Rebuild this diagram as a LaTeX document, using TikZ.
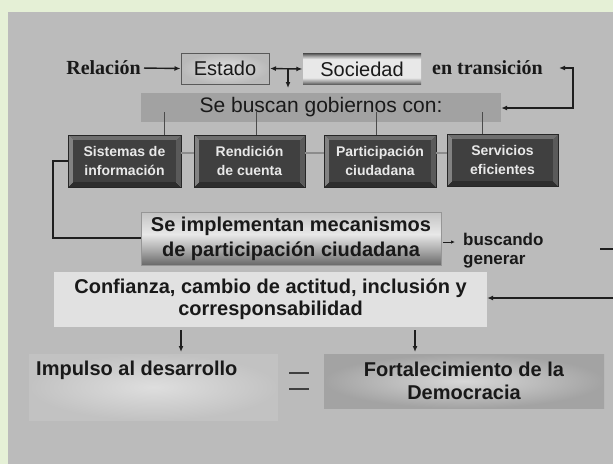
\documentclass[tikz,border=0pt]{standalone}
\usepackage{fontspec}
\setmainfont{Liberation Serif}
\newfontfamily\arial{Liberation Sans}
\usetikzlibrary{arrows.meta,calc}
\definecolor{bggreen}{RGB}{229,240,214}
\definecolor{panel}{RGB}{187,187,187}
\definecolor{linedark}{RGB}{30,30,30}
\definecolor{txt}{RGB}{25,25,25}
\definecolor{txtlight}{RGB}{232,232,232}
\definecolor{bevT}{RGB}{110,110,110}
\definecolor{bevL}{RGB}{130,130,130}
\definecolor{bevR}{RGB}{90,90,90}
\definecolor{bevB}{RGB}{45,45,45}
\definecolor{face}{RGB}{64,64,64}
\definecolor{hgrey}{RGB}{140,140,140}
\definecolor{sdark}{RGB}{88,88,88}
\definecolor{smid}{RGB}{160,160,160}
\definecolor{slight}{RGB}{232,232,232}
\definecolor{idark}{RGB}{105,105,105}
\definecolor{imid}{RGB}{165,165,165}
\definecolor{ilight}{RGB}{232,232,232}
\definecolor{itop}{RGB}{195,195,195}
\pgfdeclareverticalshading{socshade}{100bp}{color(0bp)=(sdark); color(25bp)=(sdark); color(30bp)=(smid); color(36bp)=(slight); color(66bp)=(slight); color(71bp)=(smid); color(75bp)=(sdark); color(100bp)=(sdark)}
\pgfdeclareverticalshading{implshade}{100bp}{color(0bp)=(idark); color(25bp)=(idark); color(38bp)=(imid); color(54bp)=(ilight); color(75bp)=(itop); color(100bp)=(itop)}
\newcommand\bevbox[6]{%
  \begin{scope}[shift={(#2,#3)}]
    \pgfmathsetmacro\bbw{#4/2}\pgfmathsetmacro\bbh{#5/2}
    \fill[bevT] (-\bbw,-\bbh) -- (\bbw,-\bbh) -- (\bbw-5,-\bbh+5) -- (-\bbw+5,-\bbh+5) -- cycle;
    \fill[bevB] (-\bbw,\bbh) -- (\bbw,\bbh) -- (\bbw-5,\bbh-5) -- (-\bbw+5,\bbh-5) -- cycle;
    \fill[bevL] (-\bbw,-\bbh) -- (-\bbw+5,-\bbh+5) -- (-\bbw+5,\bbh-5) -- (-\bbw,\bbh) -- cycle;
    \fill[bevR] (\bbw,-\bbh) -- (\bbw-5,-\bbh+5) -- (\bbw-5,\bbh-5) -- (\bbw,\bbh) -- cycle;
    \fill[face] (-\bbw+5,-\bbh+5) rectangle (\bbw-5,\bbh-5);
  \end{scope}
  \node[darkbox, minimum width=#4pt, minimum height=#5pt] (#1) at (#2,#3) {#6};
}
\tikzset{
  conn/.style={draw=linedark, line width=1.4pt},
  arr/.style={conn, -{Latex[length=6pt,width=5pt]}},
  dbl/.style={conn, {Latex[length=6pt,width=5pt]}-{Latex[length=6pt,width=5pt]}},
  vline/.style={draw=linedark!80, line width=0.9pt},
  hline/.style={draw=hgrey, line width=1.6pt},
  serifb/.style={font=\fontsize{20}{24}\selectfont\bfseries, text=txt, inner sep=0pt},
  darkbox/.style={draw=black!85, line width=0.8pt, text=txtlight, align=center, inner sep=0pt,
    font=\arial\bfseries\fontsize{14}{19}\selectfont},
  estbox/.style={draw=black!65, line width=1pt, inner color={rgb,255:red,225;green,225;blue,225},
    outer color={rgb,255:red,185;green,185;blue,185}, minimum width=88pt, minimum height=31pt,
    inner sep=0pt, text=txt, font=\arial\fontsize{20}{24}\selectfont},
  socbox/.style={shading=socshade, minimum width=118pt, minimum height=31pt,
    inner sep=0pt, text=txt, font=\arial\fontsize{20}{24}\selectfont},
  buscbox/.style={fill={rgb,255:red,162;green,162;blue,162}, minimum width=360pt, minimum height=29pt,
    inner sep=0pt, text=txt, font=\arial\fontsize{21}{25}\selectfont},
  implbox/.style={shading=implshade, draw={rgb,255:red,150;green,150;blue,150}, line width=0.6pt,
    minimum width=300pt, minimum height=53pt, inner sep=0pt, align=center, text=txt,
    font=\arial\bfseries\fontsize{20}{25}\selectfont},
  smallb/.style={inner sep=0pt, align=left, text=txt, font=\arial\bfseries\fontsize{17}{19}\selectfont},
  confbox/.style={fill={rgb,255:red,225;green,225;blue,225}, minimum width=433pt, minimum height=55pt,
    inner sep=0pt, align=center, text=txt, font=\arial\bfseries\fontsize{20}{22}\selectfont},
  impbox/.style={inner color={rgb,255:red,222;green,222;blue,222}, outer color={rgb,255:red,194;green,194;blue,194},
    minimum width=249pt, minimum height=66pt, inner sep=0pt},
  fortbox/.style={inner color={rgb,255:red,215;green,215;blue,215}, outer color={rgb,255:red,163;green,163;blue,163},
    minimum width=280pt, minimum height=54pt, inner sep=0pt, align=center, text=txt,
    font=\arial\bfseries\fontsize{20}{23}\selectfont},
  bigb/.style={inner sep=0pt, text=txt, font=\arial\bfseries\fontsize{20}{23}\selectfont},
  eqline/.style={draw=linedark!85, line width=2pt}
}
\begin{document}
\begin{tikzpicture}[x=1pt,y=-1pt]
\useasboundingbox (0,0) rectangle (613,464);
\clip (0,0) rectangle (613,464);
\fill[bggreen] (0,0) rectangle (613,464);
\fill[panel] (8,12) rectangle (613,464);

% top row
\node[estbox] (est) at (225,68.5) {Estado};
\node[socbox] (soc) at (362,69) {Sociedad};
\node[serifb, anchor=east] (rel) at (141,68) {Relación};
\node[serifb, anchor=west] (trans) at (432,68) {en transición};
\node[buscbox] (busc) at (321,107.5) {Se buscan gobiernos con:};

% dark boxes
\bevbox{sis}{124.5}{161}{113}{52}{Sistemas de\\información}
\bevbox{ren}{249.5}{161}{111}{52}{Rendición\\de cuenta}
\bevbox{par}{380}{161}{112}{52}{Participación\\ciudadana}
\bevbox{ser}{502.5}{160}{111}{52}{Servicios\\eficientes}

\node[implbox] (impl) at (291,238.5) {Se implementan mecanismos\\de participación ciudadana};
\node[smallb, anchor=west] (bg) at (463,251) {buscando\\generar};
\node[confbox] (conf) at (270.5,299.5) {Confianza, cambio de actitud, inclusión y\\corresponsabilidad};
\node[impbox] (imp) at (153.5,387) {};
\node[bigb, anchor=west] (impt) at (36,370) {Impulso al desarrollo};
\node[fortbox] (fort) at (464,381) {Fortalecimiento de la\\Democracia};

% equals sign
\draw[eqline] (289,373) -- (309,373);
\draw[eqline] (289,389) -- (309,389);

% connectors
\draw[arr, shorten <=3pt] (rel.east) -- (est.west);
\draw[dbl, shorten >=0.5pt, shorten <=0.5pt] (est.east) -- (soc.west);
\coordinate (ed1) at (288,68.5);
\coordinate (ed2) at (288,88);
\draw[arr] (ed1) -- (ed2);
\coordinate (tr1) at (573,108);
\coordinate (tr2) at (573,68);
\coordinate (tr3) at (559,68);
\draw[dbl] (busc.east |- tr1) -- (tr1) -- (tr2) -- (tr3);

\foreach \n/\x in {sis/164, ren/256, par/376, ser/482} {
  \coordinate (v\n) at (\x,112);
  \draw[vline] (v\n) -- (\n.north -| v\n);
}
\coordinate (hy) at (0,153);
\draw[hline] (sis.east |- hy) -- (ren.west |- hy);
\draw[hline] (ren.east |- hy) -- (par.west |- hy);
\draw[hline] (par.east |- hy) -- (ser.west |- hy);

\coordinate (lb1) at (53,161);
\coordinate (lb2) at (53,238);
\draw[conn] (sis.west |- lb1) -- (lb1) -- (lb2) -- (impl.west |- lb2);

\coordinate (ba) at (455,242);
\draw[conn, line width=1pt, -{Latex[length=4pt,width=3.5pt]}, shorten <=1.5pt] (impl.east |- ba) -- (ba);

\coordinate (rb1) at (600,249);
\coordinate (rb2) at (618,249);
\coordinate (rb3) at (618,298);
\draw[arr] (rb1) -- (rb2) -- (rb3) -- (conf.east |- rb3);

\coordinate (d1) at (181,352);
\coordinate (d2) at (415,352);
\draw[arr, shorten <=3pt] (conf.south -| d1) -- (d1);
\draw[arr, shorten <=3pt] (conf.south -| d2) -- (d2);
\end{tikzpicture}
\end{document}
